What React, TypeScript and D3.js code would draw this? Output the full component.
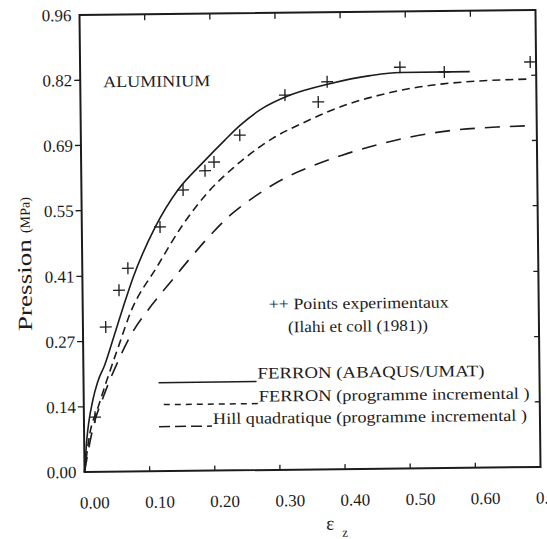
import React from 'react';
import * as d3 from 'd3';

// courbes (eps_z, pression MPa)
const ferronAbaqus: [number, number][] = [
  [0, 0], [0.004, 0.067], [0.014, 0.151], [0.022, 0.19], [0.033, 0.225], [0.046, 0.278],
  [0.062, 0.345], [0.078, 0.408], [0.112, 0.511], [0.148, 0.59], [0.186, 0.646], [0.221, 0.694],
  [0.245, 0.725], [0.276, 0.757], [0.322, 0.787], [0.383, 0.81], [0.445, 0.826], [0.491, 0.832],
  [0.598, 0.832],
];
const ferronIncr: [number, number][] = [
  [0, 0], [0.009, 0.082], [0.022, 0.136], [0.036, 0.193], [0.054, 0.262], [0.073, 0.333],
  [0.115, 0.43], [0.155, 0.517], [0.193, 0.583], [0.233, 0.635], [0.249, 0.653], [0.295, 0.697],
  [0.341, 0.728], [0.378, 0.75], [0.414, 0.768], [0.46, 0.785], [0.506, 0.798], [0.557, 0.807],
  [0.609, 0.812], [0.686, 0.815],
];
const hillIncr: [number, number][] = [
  [0, 0], [0.014, 0.094], [0.03, 0.157], [0.052, 0.228], [0.072, 0.283], [0.106, 0.349],
  [0.134, 0.395], [0.161, 0.439], [0.192, 0.487], [0.228, 0.536], [0.263, 0.572], [0.31, 0.611],
  [0.356, 0.638], [0.402, 0.66], [0.459, 0.682], [0.505, 0.696], [0.577, 0.71], [0.639, 0.715],
  [0.685, 0.717],
];
const experimental: [number, number][] = [
  [0.017, 0.115], [0.035, 0.304], [0.056, 0.381], [0.07, 0.427], [0.12, 0.513], [0.156, 0.59],
  [0.19, 0.63], [0.204, 0.648], [0.244, 0.704], [0.314, 0.787], [0.365, 0.772], [0.379, 0.814],
  [0.491, 0.843], [0.559, 0.832], [0.691, 0.851],
];

const xTicks = [0, 0.1, 0.2, 0.3, 0.4, 0.5, 0.6, 0.7];
const xTickLabels = ['0.00', '0.10', '0.20', '0.30', '0.40', '0.50', '0.60', '0.70'];
const yTicks = [0, 0.137, 0.274, 0.411, 0.549, 0.686, 0.823, 0.96];
const yTickLabels = ['0.00', '0.14', '0.27', '0.41', '0.55', '0.69', '0.82', '0.96'];

const legendItems = [
  { label: 'FERRON  (ABAQUS/UMAT)', dash: null as string | null },
  { label: 'FERRON  (programme incremental )', dash: '6,5' },
  { label: 'Hill quadratique (programme incremental )', dash: '11,5' },
];

const INK = '#1c1c1c';
const FONT = '"Liberation Serif", "Times New Roman", serif';

export default function App() {
  const W = 547, H = 539;
  const M = { left: 82, right: 538, top: 12.5, bottom: 469.5 };

  const x = d3.scaleLinear().domain([0, 0.7]).range([M.left, M.right]);
  const y = d3.scaleLinear().domain([0, 0.96]).range([M.bottom, M.top]);

  const line = d3.line<[number, number]>()
    .x(d => x(d[0]))
    .y(d => y(d[1]))
    .curve(d3.curveMonotoneX);

  const innerX = xTicks.filter(t => t > 0 && t < 0.7);
  const innerY = yTicks.filter(t => t > 0 && t < 0.96);

  // legend rows: line start/end, line y, text baseline, text width
  const legRows = [
    { x0: 157, x1: 255, ly: 381, ty: 378, tw: 227 },
    { x0: 162, x1: 256, ly: 403, ty: 401, tw: 271 },
    { x0: 157, x1: 210, ly: 425, ty: 423, tw: 314 },
  ];

  return (
    <div style={{ position: 'absolute', left: 0, top: 0 }}>
      <svg width={W} height={H} style={{ display: 'block', background: '#fff' }}>
        <g transform="rotate(-0.63, 310, 241)" fontFamily={FONT} fill={INK}>
          {/* frame */}
          <rect x={M.left} y={M.top} width={M.right - M.left} height={M.bottom - M.top}
            fill="none" stroke={INK} strokeWidth={2} />

          {/* ticks */}
          {innerX.map(t => (
            <g key={'xt' + t} stroke={INK} strokeWidth={1.3}>
              <line x1={x(t)} x2={x(t)} y1={M.bottom} y2={M.bottom - 5} />
              <line x1={x(t)} x2={x(t)} y1={M.top} y2={M.top + 6} />
            </g>
          ))}
          {innerY.map(t => (
            <g key={'yt' + t} stroke={INK} strokeWidth={1.3}>
              <line x1={M.left} x2={M.left - 6} y1={y(t)} y2={y(t)} />
              <line x1={M.right} x2={M.right - 5} y1={y(t)} y2={y(t)} />
            </g>
          ))}

          {/* tick labels */}
          {xTicks.map((t, i) => (
            <text key={'xl' + t} x={x(t) + 10} y={506} textAnchor="middle" fontSize={17}>
              {xTickLabels[i]}
            </text>
          ))}
          {yTicks.map((t, i) => (
            <text key={'yl' + t} x={M.left - 8} y={y(t)} dy="0.35em" textAnchor="end" fontSize={17}>
              {yTickLabels[i]}
            </text>
          ))}

          {/* axis titles */}
          <text transform="translate(31,328) rotate(-90)" fontSize={20}
            textLength={92} lengthAdjust="spacingAndGlyphs">Pression</text>
          <text transform="translate(30,230) rotate(-90)" fontSize={14}
            textLength={36} lengthAdjust="spacingAndGlyphs">(MPa)</text>
          <text x={323} y={530} fontSize={19}>ε</text>
          <text x={339} y={537} fontSize={13}>z</text>

          <text x={105} y={85} fontSize={16} textLength={107} lengthAdjust="spacingAndGlyphs">ALUMINIUM</text>

          {/* curves */}
          <path d={line(ferronAbaqus) ?? ''} fill="none" stroke={INK} strokeWidth={1.6} />
          <path d={line(ferronIncr) ?? ''} fill="none" stroke={INK} strokeWidth={1.6} strokeDasharray="8,5" />
          <path d={line(hillIncr) ?? ''} fill="none" stroke={INK} strokeWidth={1.6} strokeDasharray="15,10" />

          {/* experimental points */}
          {experimental.map((d, i) => (
            <g key={'p' + i} stroke={INK} strokeWidth={1.3}>
              <line x1={x(d[0]) - 6} x2={x(d[0]) + 6} y1={y(d[1])} y2={y(d[1])} />
              <line x1={x(d[0])} x2={x(d[0])} y1={y(d[1]) - 6} y2={y(d[1]) + 6} />
            </g>
          ))}

          {/* legend */}
          <text x={268} y={309} fontSize={16} textLength={180} lengthAdjust="spacingAndGlyphs">++ Points experimentaux</text>
          <text x={287} y={332} fontSize={16} textLength={140} lengthAdjust="spacingAndGlyphs">(Ilahi et coll (1981))</text>
          {legendItems.map((it, i) => {
            const r = legRows[i];
            return (
              <g key={it.label}>
                <line x1={r.x0} x2={r.x1} y1={r.ly} y2={r.ly} stroke={INK} strokeWidth={1.5}
                  strokeDasharray={it.dash ?? undefined} />
                <text x={r.x1 + 1} y={r.ty} fontSize={16} textLength={r.tw}
                  lengthAdjust="spacingAndGlyphs">{it.label}</text>
              </g>
            );
          })}
        </g>
      </svg>
    </div>
  );
}
